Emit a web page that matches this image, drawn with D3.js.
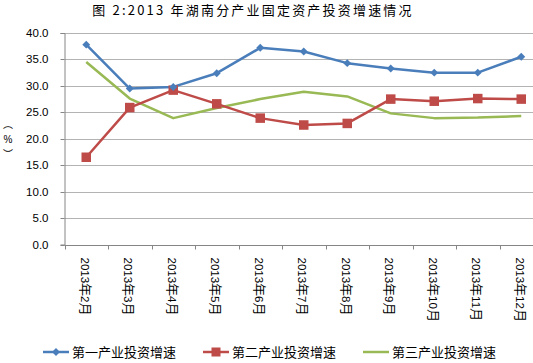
<!DOCTYPE html>
<html><head><meta charset="utf-8">
<script src="https://cdn.jsdelivr.net/npm/d3@7"></script>
<style>
html,body{margin:0;padding:0;background:#fff;}
svg{display:block;}
</style></head>
<body>
<script>
const categories = ["2013年2月","2013年3月","2013年4月","2013年5月","2013年6月","2013年7月","2013年8月","2013年9月","2013年10月","2013年11月","2013年12月"];
const primary   = [37.8, 29.5, 29.8, 32.4, 37.2, 36.5, 34.3, 33.3, 32.5, 32.5, 35.5];
const secondary = [16.5, 25.9, 29.2, 26.6, 23.9, 22.6, 22.9, 27.5, 27.1, 27.6, 27.5];
const tertiary  = [34.5, 27.6, 23.9, 25.8, 27.5, 28.9, 28.0, 24.8, 23.9, 24.0, 24.3];
const seriesNames = ["第一产业投资增速","第二产业投资增速","第三产业投资增速"];
const yTicks = [0,5,10,15,20,25,30,35,40];
const titleText = "图 2:2013 年湖南分产业固定资产投资增速情况";

(function(){
const W = 533, H = 363;
const svg = d3.select("body").append("svg").attr("width", W).attr("height", H);
const pLeft = 64.5, pTop = 33, pBottom = 244.5, step = 43.5;
const x = d3.scaleBand().domain(categories).range([pLeft, pLeft + step*categories.length]).padding(0);
const y = d3.scaleLinear().domain([0,40]).range([pBottom, pTop]);
const cx = c => x(c) + x.bandwidth()/2;

const latin = "Arial, 'Liberation Sans', sans-serif";
const cjkF = "'Noto Sans CJK SC', sans-serif";

// title
svg.append("text").attr("x", 253).attr("y", 14.5).attr("text-anchor","middle")
  .attr("font-family",cjkF).attr("font-size", 13)
  .attr("letter-spacing", 2.2).attr("fill","#000").text(titleText);

// gridlines
svg.append("g").selectAll("line").data(yTicks.filter(d=>d>0)).join("line")
  .attr("x1", pLeft).attr("x2", pLeft + step*categories.length)
  .attr("y1", d=>Math.round(y(d))+0.5).attr("y2", d=>Math.round(y(d))+0.5)
  .attr("stroke","#b3b3b3").attr("stroke-width",1);

// y axis
const yAxis = d3.axisLeft(y).tickValues(yTicks).tickFormat(d3.format(".1f")).tickSize(4).tickPadding(12);
const gy = svg.append("g").attr("transform",`translate(${pLeft},0)`).call(yAxis);
gy.select(".domain").attr("stroke","#868686");
gy.selectAll(".tick line").attr("stroke","#868686");
gy.selectAll(".tick text").attr("font-family",latin).attr("font-size",11.5).attr("fill","#000");
gy.selectAll(".tick").attr("transform", d=>`translate(0,${Math.round(y(d))+0.5})`);

// x axis
const gx = svg.append("g").attr("transform",`translate(0,${Math.round(pBottom)+0.5})`);
gx.append("line").attr("x1",pLeft).attr("x2",pLeft+step*categories.length).attr("stroke","#868686");
gx.selectAll("line.tk").data(d3.range(categories.length+1)).join("line").attr("class","tk")
  .attr("x1", i=>Math.round(pLeft+i*step)+0.5).attr("x2", i=>Math.round(pLeft+i*step)+0.5)
  .attr("y1",0).attr("y2",4).attr("stroke","#868686");
const xt = gx.selectAll("text").data(categories).join("text")
  .attr("transform", d=>`translate(${cx(d)},12) rotate(90)`)
  .attr("dy","0.35em").attr("fill","#000");
xt.each(function(d){
  const runs = d.match(/[0-9]+|[^0-9]+/g);
  const t = d3.select(this);
  runs.forEach(r=>{
    const isNum = /^[0-9]/.test(r);
    t.append("tspan").attr("font-family", isNum?latin:cjkF).attr("font-size", isNum?11.5:13).text(r);
  });
});

// y axis title (vertical)
const yt = svg.append("g").attr("font-family",cjkF).attr("font-size",10).attr("text-anchor","middle");
yt.append("text").attr("x",8).attr("y",128).text("︵");
yt.append("text").attr("x",8).attr("y",143).attr("font-family",latin).text("%");
yt.append("text").attr("x",8).attr("y",158).text("︶");

const colors = ["#4a7ebb","#be4b48","#98b954"];
const line = d3.line().x((d,i)=>cx(categories[i])).y(d=>y(d));
const data = [primary, secondary, tertiary];
[2,1,0].forEach(k=>{
  svg.append("path").datum(data[k]).attr("d", line).attr("fill","none")
    .attr("stroke", colors[k]).attr("stroke-width",2.5).attr("stroke-linejoin","round");
});
// markers
svg.append("g").selectAll("rect").data(secondary).join("rect")
  .attr("x",(d,i)=>cx(categories[i])-4.75).attr("y",d=>y(d)-4.75)
  .attr("width",9.5).attr("height",9.5).attr("fill",colors[1]);
const dia = d3.symbol().type(d3.symbolDiamond2).size(40);
svg.append("g").selectAll("path").data(primary).join("path")
  .attr("transform",(d,i)=>`translate(${cx(categories[i])},${y(d)})`)
  .attr("d", dia).attr("fill",colors[0]);

// legend
const leg = [{x1:43,x2:69,tx:72},{x1:203,x2:229,tx:232},{x1:363,x2:389,tx:392}];
const ly = 352;
leg.forEach((l,k)=>{
  const g = svg.append("g");
  g.append("line").attr("x1",l.x1).attr("x2",l.x2).attr("y1",ly).attr("y2",ly).attr("stroke",colors[k]).attr("stroke-width",2.5);
  if(k===0) g.append("path").attr("transform",`translate(${(l.x1+l.x2)/2},${ly})`).attr("d",dia).attr("fill",colors[0]);
  if(k===1) g.append("rect").attr("x",(l.x1+l.x2)/2-4.5).attr("y",ly-4.5).attr("width",9).attr("height",9).attr("fill",colors[1]);
  g.append("text").attr("x",l.tx).attr("y",ly).attr("dy","0.35em").attr("font-family",cjkF)
    .attr("font-size",13).attr("fill","#000").text(seriesNames[k]);
});
})();
</script>
</body></html>
